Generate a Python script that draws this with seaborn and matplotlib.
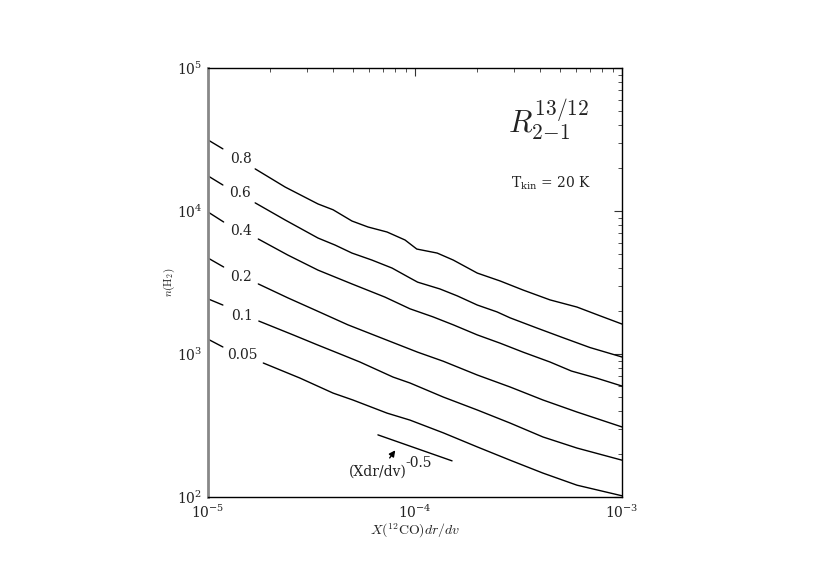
import numpy as np
import pandas as pd
import matplotlib
matplotlib.use("Agg")
import matplotlib.pyplot as plt
import seaborn as sns
from matplotlib.ticker import LogLocator, NullFormatter

# ---------------- data ----------------
levels = ["0.8", "0.6", "0.4", "0.2", "0.1", "0.05"]

x_08 = [1.0e-5, 1.18e-5, 1.69e-5, 2.36e-5, 3.40e-5, 4.02e-5, 4.96e-5, 5.93e-5, 7.33e-5,
        8.95e-5, 1.02e-4, 1.28e-4, 1.53e-4, 2.00e-4, 2.58e-4, 3.33e-4, 4.49e-4, 6.06e-4,
        7.83e-4, 1.0e-3]
y_08 = [31400, 27200, 19700, 14700, 11200, 10200, 8510, 7730, 7130,
        6270, 5420, 5080, 4540, 3680, 3240, 2800, 2390, 2130,
        1850, 1620]

x_06 = [1.0e-5, 1.18e-5, 1.69e-5, 2.36e-5, 3.40e-5, 4.11e-5, 4.96e-5, 6.19e-5, 7.75e-5,
        9.46e-5, 1.03e-4, 1.32e-4, 1.60e-4, 2.00e-4, 2.49e-4, 2.88e-4, 3.88e-4, 5.19e-4,
        7.00e-4, 1.0e-3]
y_06 = [17600, 15200, 11400, 8650, 6470, 5780, 5080, 4540, 3990,
        3400, 3180, 2850, 2550, 2200, 1970, 1790, 1520, 1300,
        1110, 953]

x_04 = [1.0e-5, 1.19e-5, 1.75e-5, 2.43e-5, 3.40e-5, 4.96e-5, 7.16e-5, 9.46e-5, 1.22e-4,
        1.53e-4, 2.00e-4, 2.58e-4, 3.33e-4, 4.49e-4, 5.70e-4, 7.50e-4, 1.0e-3]
y_04 = [9840, 8380, 6370, 4920, 3860, 3090, 2500, 2070, 1820,
        1600, 1360, 1190, 1030, 879, 760, 680, 597]

x_02 = [1.0e-5, 1.19e-5, 1.75e-5, 2.43e-5, 3.29e-5, 4.74e-5, 7.75e-5, 1.03e-4, 1.37e-4,
        2.00e-4, 2.88e-4, 4.15e-4, 6.06e-4, 1.0e-3]
y_02 = [4690, 4060, 3090, 2470, 2030, 1600, 1210, 1030, 890,
        713, 588, 477, 393, 309]

x_01 = [1.0e-5, 1.18e-5, 1.76e-5, 2.58e-5, 3.37e-5, 4.35e-5, 5.42e-5, 7.83e-5, 9.46e-5,
        1.37e-4, 2.00e-4, 2.88e-4, 4.15e-4, 6.06e-4, 1.0e-3]
y_01 = [2430, 2200, 1700, 1360, 1160, 1000, 879, 690, 627,
        500, 406, 329, 263, 220, 181]

x_005 = [1.0e-5, 1.18e-5, 1.85e-5, 2.78e-5, 4.02e-5, 5.01e-5, 7.33e-5, 9.46e-5, 1.37e-4,
         2.00e-4, 2.88e-4, 4.15e-4, 6.06e-4, 1.0e-3]
y_005 = [1270, 1120, 865, 679, 533, 477, 386, 345, 281,
         224, 181, 147, 121, 102]

# reference power law (Xdr/dv)^-0.5
x_ref = [6.62e-5, 1.51e-4]
y_ref = [272, 179]

# inline contour label anchors
label_x = [1.44e-5, 1.43e-5, 1.44e-5, 1.44e-5, 1.46e-5, 1.46e-5]
label_y = [23100, 13400, 7250, 3450, 1850, 984]

# ---------------- build long table ----------------
rows = []
series = [(x_08, y_08), (x_06, y_06), (x_04, y_04), (x_02, y_02), (x_01, y_01), (x_005, y_005)]
for lev, (xs, ys) in zip(levels, series):
    # contour broken by its inline label: first two points left of label, rest right
    for i, (xv, yv) in enumerate(zip(xs, ys)):
        seg = f"{lev}_a" if i < 2 else f"{lev}_b"
        rows.append(dict(x=xv, y=yv, seg=seg))
for xv, yv in zip(x_ref, y_ref):
    rows.append(dict(x=xv, y=yv, seg="ref"))
df = pd.DataFrame(rows)

# ---------------- figure ----------------
sns.set_theme(style="white")
plt.rcParams["font.family"] = ["DejaVu Serif", "DejaVu Sans"]
plt.rcParams["mathtext.fontset"] = "dejavuserif"

fig = plt.figure(figsize=(8.3, 5.69), dpi=100)
ax = fig.add_axes([0.2506, 0.1265, 0.4988, 0.754])
ax.set_xscale("log")
ax.set_yscale("log")

sns.lineplot(data=df, x="x", y="y", units="seg", estimator=None, sort=False,
             color="black", linewidth=1.0, ax=ax, legend=False)

ax.set_xlim(1e-5, 1e-3)
ax.set_ylim(1e2, 1e5)

for lab, lx, ly in zip(levels, label_x, label_y):
    ax.text(lx, ly, lab, ha="center", va="center", fontsize=10, color="#222222")

# power-law annotation
ax.annotate("", xy=(8.18e-5, 220), xytext=(7.41e-5, 181),
            arrowprops=dict(arrowstyle="-|>", color="black", lw=1.0, mutation_scale=9))
ax.text(6.59e-5, 150, "(Xdr/dv)", ha="center", va="center", fontsize=10, color="#222222")
ax.text(1.045e-4, 173, "-0.5", ha="center", va="center", fontsize=10, color="#222222")

ax.text(0.822, 0.879, r"$R^{13/12}_{2\!-\!1}$", transform=ax.transAxes, ha="center",
        va="center", fontsize=22, math_fontfamily="cm", color="#222222")
ax.text(0.829, 0.732, r"T$_{\mathrm{kin}}$ = 20 K", transform=ax.transAxes, ha="center",
        va="center", fontsize=10, color="#222222")

ax.set_xlabel(r"$X(^{12}\mathrm{CO})dr/dv$", math_fontfamily="cm", fontsize=10,
              labelpad=0, color="#222222")
ax.set_ylabel(r"$n(\mathrm{H}_2)$", math_fontfamily="cm", fontsize=8,
              labelpad=0, color="#222222")

# ticks
ax.xaxis.set_minor_locator(LogLocator(base=10, subs=np.arange(2, 10)))
ax.yaxis.set_minor_locator(LogLocator(base=10, subs=np.arange(2, 10)))
ax.xaxis.set_minor_formatter(NullFormatter())
ax.yaxis.set_minor_formatter(NullFormatter())
ax.tick_params(which="both", direction="in", top=True, right=True, color="#333333",
               labelsize=10, labelcolor="#222222")
ax.tick_params(which="major", length=6, width=0.8)
ax.tick_params(which="minor", length=3, width=0.6)
ax.tick_params(axis="x", pad=5)
ax.tick_params(axis="y", pad=4)

for side in ["top", "right", "bottom"]:
    ax.spines[side].set_color("black")
    ax.spines[side].set_linewidth(1.0)
ax.spines["left"].set_color("#888888")
ax.spines["left"].set_linewidth(2.0)

fig.savefig("out.png", dpi=100)
